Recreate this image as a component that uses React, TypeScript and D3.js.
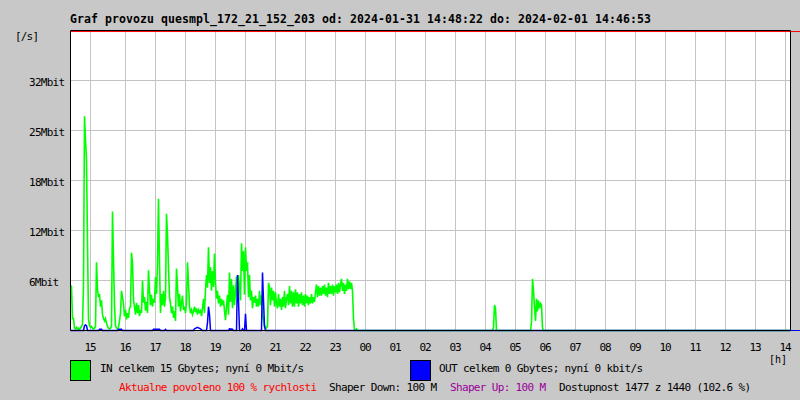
import React, { useEffect, useRef } from 'react';
import * as d3 from 'd3';

const titleText =
  'Graf provozu quesmpl_172_21_152_203 od: 2024-01-31 14:48:22 do: 2024-02-01 14:46:53';

// hour gridlines, minutes from the start of the graph
const hourTicks = [
  41, 111, 171, 231, 291, 351, 411, 471, 531, 591, 651, 711, 771, 831, 891, 951, 1011, 1071,
  1131, 1191, 1251, 1311, 1371, 1431,
];
const hourLabels = [
  '15', '16', '17', '18', '19', '20', '21', '22', '23', '00', '01', '02', '03', '04', '05', '06',
  '07', '08', '09', '10', '11', '12', '13', '14',
];

const yTicks = [6.3, 12.6, 18.9, 25.2, 31.5];
const yLabels = ['6Mbit', '12Mbit', '18Mbit', '25Mbit', '32Mbit'];
const yMax = 37.8;
const redLimit = 37.67;

// IN traffic in Mbit/s, one sample every 2 minutes from the start
const inHead = [
  5.7, 5.5, 1.5, 1.5, 0.3, 0.2, 0.4, 0.2, 0.3, 0.2,
  0.3, 0.5, 0.8, 5.5, 27, 24, 21.7, 11, 1.5, 0.6,
  0.4, 0.5, 0.3, 0.2, 0.3, 0.5, 8.6, 5.2, 4.2, 4.6,
  3.0, 3.8, 2.0, 1.5, 1.2, 1.5, 0.9, 0.5, 0.3, 0.2,
  0.3, 0.5, 15.0, 9.0, 3.2, 0.6, 0.3, 0.2, 0.4, 1.2,
  2.2, 5.0, 4.2, 3.4, 1.8, 2.6, 1.4, 2.2, 1.6, 2.8,
  3.0, 9.8, 8.5, 3.8, 3.0, 2.0, 3.5, 2.2, 3.2, 1.8,
  2.6, 2.2, 6.3, 3.5, 4.2, 2.5, 3.6, 2.2, 7.6, 5.0,
  3.2, 4.5, 3.0, 4.0, 3.5, 6.7, 4.6, 8.6, 16.6, 8.4,
  2.2, 4.6, 3.2, 5.0, 3.0, 4.2, 14.7, 12.0, 8.0, 4.2,
  3.4, 2.2, 3.0, 1.6, 2.4, 1.2, 7.8, 5.5, 3.0, 4.6,
  2.4, 3.5, 4.4, 2.6, 3.0, 2.2, 3.4, 8.6, 6.0, 3.0,
  2.2, 2.6, 2.0, 2.4, 3.0, 2.3, 2.8, 2.0, 2.6, 2.3,
  2.5, 1.8, 2.8, 4.0, 2.2, 5.2, 7.0, 5.4, 10.5, 6.0,
  8.0, 5.0, 7.5, 5.5, 9.7, 6.0, 4.0, 5.0, 3.4, 4.4,
  3.0, 4.0, 3.2, 3.8, 2.5, 1.3, 3.0, 4.5, 2.0, 7.3,
  3.6, 6.5, 2.8, 5.7, 3.2, 5.0, 6.8, 4.0, 7.0, 5.5,
  3.8, 11.0, 7.5, 10.0, 4.5, 10.5, 7.5, 8.6, 4.2, 7.0,
  3.8, 5.0, 2.8, 4.2, 3.5, 4.4, 3.0, 4.0, 3.0, 5.0,
  3.2, 4.4, 2.0, 1.3, 0.6, 0.5, 0.3, 0.6, 6.0, 5.5,
  3.2, 5.4, 3.8, 5.0, 3.0, 4.8, 3.4, 2.8, 4.6, 3.0,
  4.0, 2.6, 4.2, 3.0, 5.0, 2.8, 4.0, 4.6, 3.2, 5.6,
  3.4, 5.0, 3.0, 4.8, 3.0, 5.2, 3.4, 4.8, 3.0, 4.6,
  3.4, 4.8, 3.2, 4.4, 3.0, 4.6, 3.4, 4.4, 3.2, 4.2,
  3.4, 4.6, 3.4, 4.2, 3.6, 4.8, 5.8, 4.2, 5.6, 4.4,
  5.4, 4.4, 5.6, 4.6, 5.8, 4.4, 5.4, 4.2, 6.0, 4.6,
  5.6, 4.6, 5.8, 4.4, 5.6, 4.8, 5.8, 4.6, 6.0, 4.8,
  5.8, 6.5, 5.0, 6.0, 4.6, 5.8, 5.0, 6.5, 5.2, 6.2,
  5.2, 6.0, 5.0, 1.5, 0, 0, 0.2, 0,
];

// rest of IN, [minute, Mbit/s]
const inTail: [number, number][] = [
  [844, 0], [846, 0.4], [848, 3.2], [850, 2.8], [852, 0],
  [920, 0], [922, 1.0], [924, 6.5], [926, 5.0], [928, 3.0], [930, 1.2], [932, 4.0],
  [934, 2.4], [936, 3.8], [938, 2.8], [940, 3.4], [942, 3.2], [944, 0.3], [946, 0],
  [1440, 0],
];

// OUT traffic, [minute, Mbit/s]
const outPoints: [number, number][] = [
  [0, 0], [26, 0], [28, 0.6], [30, 0.7], [32, 0.6], [34, 0],
  [56, 0], [58, 0.15], [62, 0.15], [64, 0],
  [94, 0], [96, 0.15], [102, 0.15], [104, 0],
  [164, 0], [166, 0.15], [178, 0.15], [180, 0],
  [188, 0], [190, 0.15], [192, 0],
  [246, 0], [248, 0.2], [254, 0.4], [260, 0.2], [264, 0],
  [272, 0], [274, 1.0], [276, 3.0], [278, 2.0], [280, 0],
  [316, 0], [318, 0.2], [324, 0.15], [326, 0],
  [332, 0], [334, 7.0], [336, 3.8], [338, 0],
  [342, 0], [344, 0.2], [346, 0], [348, 0], [350, 2.1], [352, 0],
  [382, 0], [384, 7.3], [386, 3.8], [388, 0.5], [390, 0],
  [1440, 0],
];

const legendIn = 'IN celkem 15 Gbytes; nyní 0 Mbit/s';
const legendOut = 'OUT celkem 0 Gbytes; nyní 0 kbit/s';
const statusParts = [
  { text: 'Aktualne povoleno 100 % rychlosti', color: '#ff0000', x: 119 },
  { text: 'Shaper Down: 100 M', color: '#000000', x: 329 },
  { text: 'Shaper Up: 100 M', color: '#990099', x: 450 },
  { text: 'Dostupnost 1477 z 1440 (102.6 %)', color: '#000000', x: 559 },
];

const mono = '"DejaVu Sans Mono", "Liberation Mono", monospace';

export default function App() {
  const svgRef = useRef<SVGSVGElement>(null);

  useEffect(() => {
    if (!svgRef.current) return;
    draw();
  }, []);

  const draw = () => {
    const svg = d3.select(svgRef.current);
    svg.selectAll('*').remove();

    const width = 800;
    const height = 400;
    svg.attr('width', width).attr('height', height);

    const x = d3.scaleLinear().domain([0, 1440]).range([70, 790]);
    const y = d3.scaleLinear().domain([0, yMax]).range([330.5, 30.5]);

    svg.append('rect').attr('width', width).attr('height', height).attr('fill', '#c8c8c8');
    svg
      .append('rect')
      .attr('x', x(0))
      .attr('y', y(yMax))
      .attr('width', x(1440) - x(0))
      .attr('height', y(0) - y(yMax))
      .attr('fill', '#ffffff');

    const label = (t: string, px: number, py: number, size = 11, cw = 6) =>
      svg
        .append('text')
        .attr('x', px)
        .attr('y', py)
        .attr('textLength', t.length * cw)
        .attr('lengthAdjust', 'spacing')
        .style('font-family', mono)
        .style('font-size', `${size}px`)
        .style('fill', '#000')
        .text(t);

    // title
    label(titleText, 70, 23, 11.5, 7).style('font-weight', 'bold');
    label('[/s]', 15, 40);

    // horizontal grid + labels
    yTicks.forEach((v, i) => {
      svg
        .append('line')
        .attr('x1', 66)
        .attr('x2', x(1440))
        .attr('y1', y(v))
        .attr('y2', y(v))
        .attr('stroke', '#c4c4c4');
      label(yLabels[i], 29, y(v) + 5.5);
    });

    // vertical grid + hour labels
    hourTicks.forEach((m, i) => {
      svg
        .append('line')
        .attr('x1', x(m))
        .attr('x2', x(m))
        .attr('y1', y(yMax))
        .attr('y2', y(0))
        .attr('stroke', '#c4c4c4');
      label(hourLabels[i], x(m) - 6, 351);
    });
    label('[h]', 769, 362.5, 10);

    // red limit line
    svg
      .append('line')
      .attr('x1', x(0))
      .attr('x2', width)
      .attr('y1', y(redLimit))
      .attr('y2', y(redLimit))
      .attr('stroke', '#ff0000');

    const line = d3
      .line<[number, number]>()
      .x((d) => x(d[0]) + 0.5)
      .y((d) => y(d[1]));

    const inData: [number, number][] = inHead
      .map((v, i) => [i * 2, v] as [number, number])
      .concat(inTail);

    svg
      .append('path')
      .datum(inData)
      .attr('fill', 'none')
      .attr('stroke', '#00ff00')
      .attr('stroke-width', 1.6)
      .attr('d', line);

    svg
      .append('path')
      .datum(outPoints)
      .attr('fill', 'none')
      .attr('stroke', '#0000ff')
      .attr('stroke-width', 1.5)
      .attr('d', line);

    // blue tail past the frame
    svg
      .append('line')
      .attr('x1', x(1440))
      .attr('x2', width)
      .attr('y1', y(0))
      .attr('y2', y(0))
      .attr('stroke', '#0000ff');

    // frame
    svg
      .append('path')
      .attr(
        'd',
        `M${x(0) + 0.5},${y(yMax)}H${x(1440) + 0.5}V${y(0)}H${x(0) + 0.5}Z`
      )
      .attr('fill', 'none')
      .attr('stroke', '#000');

    // legend
    const legend = [
      { color: '#00ff00', text: legendIn, bx: 70, tx: 100 },
      { color: '#0000ff', text: legendOut, bx: 410, tx: 439 },
    ];
    legend.forEach((l) => {
      svg
        .append('rect')
        .attr('x', l.bx + 0.5)
        .attr('y', 360.5)
        .attr('width', 20)
        .attr('height', 20)
        .attr('fill', l.color)
        .attr('stroke', '#000');
      label(l.text, l.tx, 372);
    });

    statusParts.forEach((s) => {
      label(s.text, s.x, 391).style('fill', s.color);
    });
  };

  return (
    <div style={{ position: 'absolute', left: 0, top: 0 }}>
      <svg ref={svgRef} style={{ display: 'block' }}></svg>
    </div>
  );
}
